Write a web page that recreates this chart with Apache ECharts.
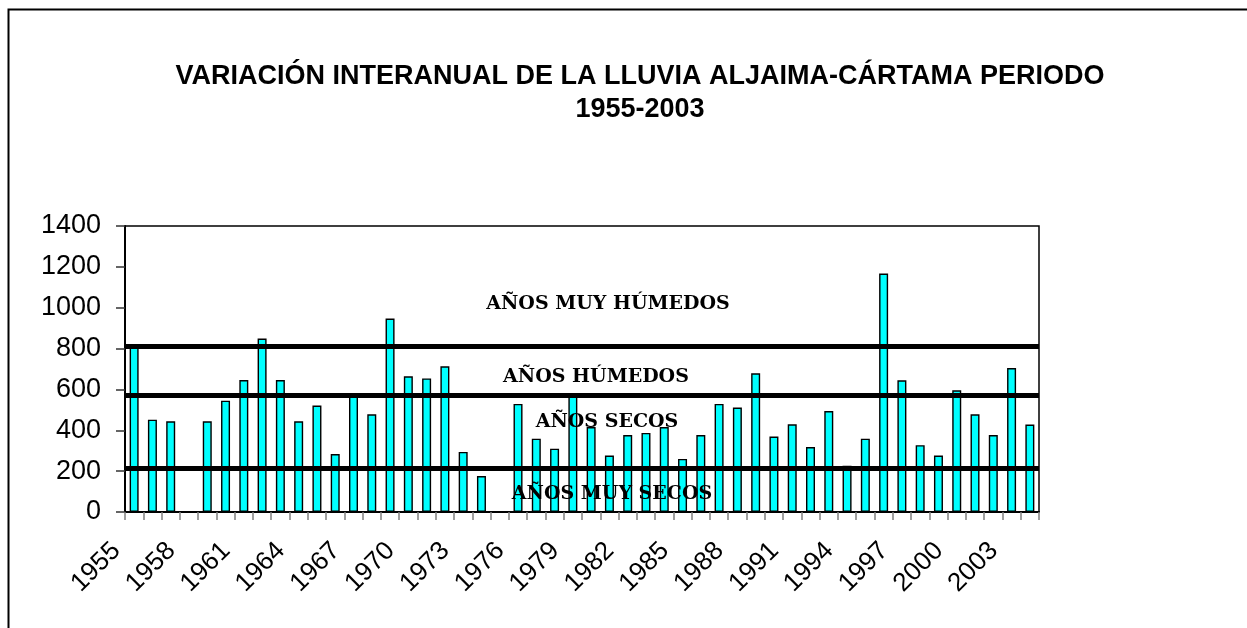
<!DOCTYPE html>
<html>
<head>
<meta charset="utf-8">
<script src="https://cdn.jsdelivr.net/npm/echarts@6/dist/echarts.min.js"></script>
<style>
html,body{margin:0;padding:0;background:#fff;}
#chart{width:1247px;height:628px;}
</style>
</head>
<body>
<div id="chart"></div>
<script>
// ---- data ----
const years = ['1955','1956','1957','1958','1959','1960','1961','1962','1963','1964',
  '1965','1966','1967','1968','1969','1970','1971','1972','1973','1974',
  '1975','1976','1977','1978','1979','1980','1981','1982','1983','1984',
  '1985','1986','1987','1988','1989','1990','1991','1992','1993','1994',
  '1995','1996','1997','1998','1999','2000','2001','2002','2003','2004'];
const rainfall = [805, 452, 444, null, 444, 545, 646, 849, 646, 444,
  521, 284, 565, 478, 947, 664, 654, 713, 294, 176,
  null, 529, 359, 310, 565, 416, 276, 377, 387, 416,
  260, 377, 529, 511, 679, 369, 429, 318, 494, 227,
  359, 1167, 645, 327, 276, 596, 478, 377, 705, 428];
const thresholds = [813, 571, 214];
const bandLabels = ['AÑOS MUY HÚMEDOS', 'AÑOS HÚMEDOS', 'AÑOS SECOS', 'AÑOS MUY SECOS'];
const yTicks = [0, 1400, 200]; // min, max, interval
const titleText = 'VARIACIÓN INTERANUAL DE LA LLUVIA ALJAIMA-CÁRTAMA PERIODO\n1955-2003';

// ---- chart ----
const chart = echarts.init(document.getElementById('chart'), null, {renderer: 'canvas'});
const bandPos = [[608, 304], [596, 377], [607, 422], [612, 494]];
const sansFont = '"Liberation Sans", Arial, sans-serif';
const serifFont = 'bold 19px "DejaVu Serif", serif';

const option = {
  backgroundColor: '#ffffff',
  animation: false,
  title: {
    text: titleText,
    left: 635,
    top: 55,
    textAlign: 'center',
    textStyle: {
      fontFamily: sansFont,
      fontWeight: 'bold',
      fontSize: 27,
      lineHeight: 33,
      color: '#000'
    }
  },
  grid: {
    left: 125, right: 208, top: 226, bottom: 116,
    show: true, borderColor: '#000', borderWidth: 1.5,
    backgroundColor: 'transparent',
    outerBoundsMode: 'none'
  },
  xAxis: {
    type: 'category',
    data: years,
    boundaryGap: true,
    axisLine: {show: true, lineStyle: {color: '#000', width: 2}},
    axisTick: {show: true, interval: 0, length: 8, lineStyle: {color: '#808080', width: 1.5}},
    axisLabel: {
      interval: 2,
      rotate: 45,
      margin: 44,
      verticalAlign: 'bottom',
      padding: [0, 6, 6, 0],
      fontFamily: sansFont,
      fontSize: 26,
      color: '#000'
    },
    splitLine: {show: false}
  },
  yAxis: {
    type: 'value',
    min: yTicks[0],
    max: yTicks[1],
    interval: yTicks[2],
    axisLine: {show: true, lineStyle: {color: '#000', width: 2}},
    axisTick: {show: true, length: 9, lineStyle: {color: '#333', width: 1.5}},
    axisLabel: {margin: 24, fontFamily: sansFont, fontSize: 27, color: '#000',
      formatter: v => String(v)},
    splitLine: {show: false}
  },
  series: [{
    type: 'bar',
    data: rainfall,
    barWidth: 9,
    itemStyle: {color: '#00FFFF', borderColor: '#000', borderWidth: 1.4},
    markLine: {
      silent: true,
      symbol: ['none', 'none'],
      label: {show: false},
      lineStyle: {color: '#000', width: 5, type: 'solid'},
      data: thresholds.map(v => ({yAxis: v}))
    }
  }],
  graphic: [
    {
      type: 'rect',
      shape: {x: 8.5, y: 9.5, width: 1300, height: 700},
      style: {fill: 'none', stroke: '#000', lineWidth: 2},
      silent: true,
      z: 100
    }
  ].concat(bandLabels.map((t, i) => ({
    type: 'text',
    x: bandPos[i][0],
    y: bandPos[i][1],
    z: 100,
    silent: true,
    style: {
      text: t,
      font: serifFont,
      fill: '#000',
      align: 'center',
      verticalAlign: 'middle',
      textAlign: 'center',
      textVerticalAlign: 'middle'
    }
  })))
};
chart.setOption(option);
</script>
</body>
</html>
